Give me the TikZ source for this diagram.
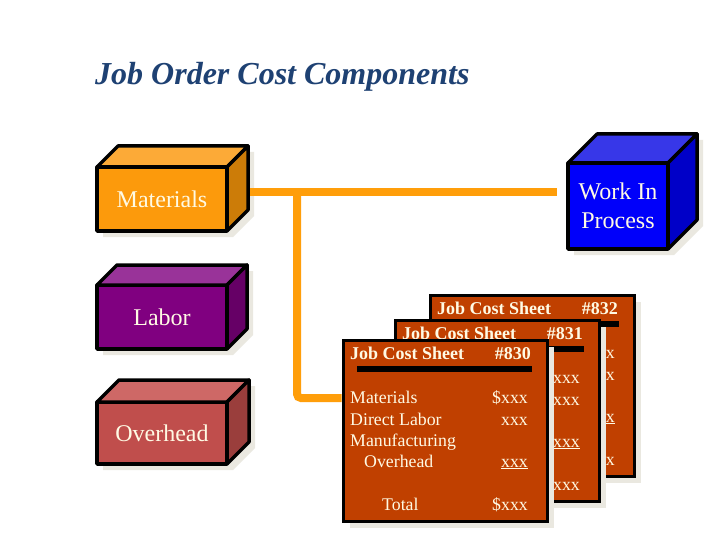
\documentclass[tikz,border=0pt]{standalone}
\usepackage{fontspec}
\setmainfont{Liberation Serif}
\usetikzlibrary{calc}
\definecolor{titlec}{RGB}{30,65,115}
\definecolor{cream}{RGB}{255,250,228}
\definecolor{shadowc}{RGB}{234,232,224}
\definecolor{connc}{RGB}{255,158,10}
\definecolor{sheetc}{RGB}{192,64,0}
\definecolor{matF}{RGB}{252,154,12}
\definecolor{matT}{RGB}{252,170,55}
\definecolor{matS}{RGB}{204,124,8}
\definecolor{labF}{RGB}{128,0,128}
\definecolor{labT}{RGB}{153,51,153}
\definecolor{labS}{RGB}{102,0,102}
\definecolor{ovhF}{RGB}{192,78,76}
\definecolor{ovhT}{RGB}{206,104,102}
\definecolor{ovhS}{RGB}{154,62,60}
\definecolor{wipF}{RGB}{0,0,250}
\definecolor{wipT}{RGB}{55,55,232}
\definecolor{wipS}{RGB}{0,0,200}
\tikzset{
  cubeface/.style={draw=black, line width=3.5pt, line join=round, outer sep=0pt,
    inner sep=0pt, text=cream, font=\fontsize{24}{29}\selectfont, align=center},
  cubeedge/.style={draw=black, line width=3.5pt, line join=round},
  conn/.style={draw=connc, line width=8pt},
  sheetbox/.style={draw=black, line width=3pt, fill=sheetc, minimum width=204pt,
    minimum height=181pt, inner sep=0pt, outer sep=0pt, anchor=north west},
  sheettxt/.style={text=cream, inner sep=0pt, font=\fontsize{17.8}{21}\selectfont},
  sheethead/.style={sheettxt, font=\fontsize{18}{21}\selectfont\bfseries},
}
% name, cx, cy, w, h, d, colour prefix, text
\newcommand\jcube[8]{%
  \fill[shadowc] ({#2-#4/2+6},{#3+#5/2+6}) -- ({#2-#4/2+6},{#3-#5/2+6})
    -- ({#2-#4/2+#6+6},{#3-#5/2-#6+6}) -- ({#2+#4/2+#6+6},{#3-#5/2-#6+6})
    -- ({#2+#4/2+#6+6},{#3+#5/2-#6+6}) -- ({#2+#4/2+6},{#3+#5/2+6}) -- cycle;
  \node[cubeface, fill=#7F, minimum width=#4, minimum height=#5] (#1) at (#2,#3) {#8};
  \filldraw[cubeedge, fill=#7T] (#1.north west) -- ++(#6,-#6) -- ++(#4,0) -- (#1.north east) -- cycle;
  \filldraw[cubeedge, fill=#7S] (#1.north east) -- ++(#6,-#6) -- ++(0,#5) -- (#1.south east) -- cycle;
}
% name, x, y, number
\newcommand\jsheet[4]{%
  \fill[shadowc] ({#2+7},{#3+7}) rectangle ++(204,181);
  \node[sheetbox] (#1) at (#2,#3) {};
  \begin{scope}[shift={(#1.north west)}]
    \node[sheethead, anchor=base west] (#1-h) at (7,19) {Job Cost Sheet};
    \node[sheethead, anchor=base east] (#1-n) at (188,19) {\##4};
    \fill[black] (14,26) rectangle (189,32);
    \node[sheettxt, anchor=base west] (#1-a) at (7,63) {Materials};
    \node[sheettxt, anchor=base east] (#1-av) at (185,63) {\$xxx};
    \node[sheettxt, anchor=base west] (#1-b) at (7,85) {Direct Labor};
    \node[sheettxt, anchor=base east] (#1-bv) at (185,85) {xxx};
    \node[sheettxt, anchor=base west] (#1-c) at (7,106) {Manufacturing};
    \node[sheettxt, anchor=base west] (#1-d) at (21,127) {Overhead};
    \node[sheettxt, anchor=base east] (#1-dv) at (185,127) {\underline{xxx}};
    \node[sheettxt, anchor=base west] (#1-e) at (39,170) {Total};
    \node[sheettxt, anchor=base east] (#1-ev) at (185,170) {\$xxx};
  \end{scope}
}
\begin{document}
\begin{tikzpicture}[x=1pt, y=-1pt]
  \fill[white] (0,0) rectangle (720,540);
  \useasboundingbox (0,0) rectangle (720,540);

  \node[anchor=base west, inner sep=0pt, text=titlec,
        font=\fontsize{32}{38}\selectfont\bfseries\itshape] (title) at (95,85)
        {Job Order Cost Components};

  \jcube{mat}{162}{199}{130}{64}{21}{mat}{Materials}
  \jcube{lab}{162}{317}{130}{64}{20}{lab}{Labor}
  \jcube{ovh}{162}{433}{130}{62}{22}{ovh}{Overhead}
  \jcube{wip}{618}{206}{100}{86}{29}{wip}{Work In\\Process}

  \jsheet{s832}{430}{295}{832}
  \jsheet{s831}{395}{320}{831}
  \jsheet{s830}{343}{340}{830}

  \coordinate (mr) at ($(mat.east)+(23,-7)$);
  \coordinate (tj) at (297,192);
  \coordinate (sl) at ($(s830.north west)+(-1.5,58)$);
  \draw[conn, shorten >=11pt] (mr) -- (mr -| wip.west);
  \draw[conn, rounded corners=4pt] (tj) |- (sl);
\end{tikzpicture}
\end{document}
